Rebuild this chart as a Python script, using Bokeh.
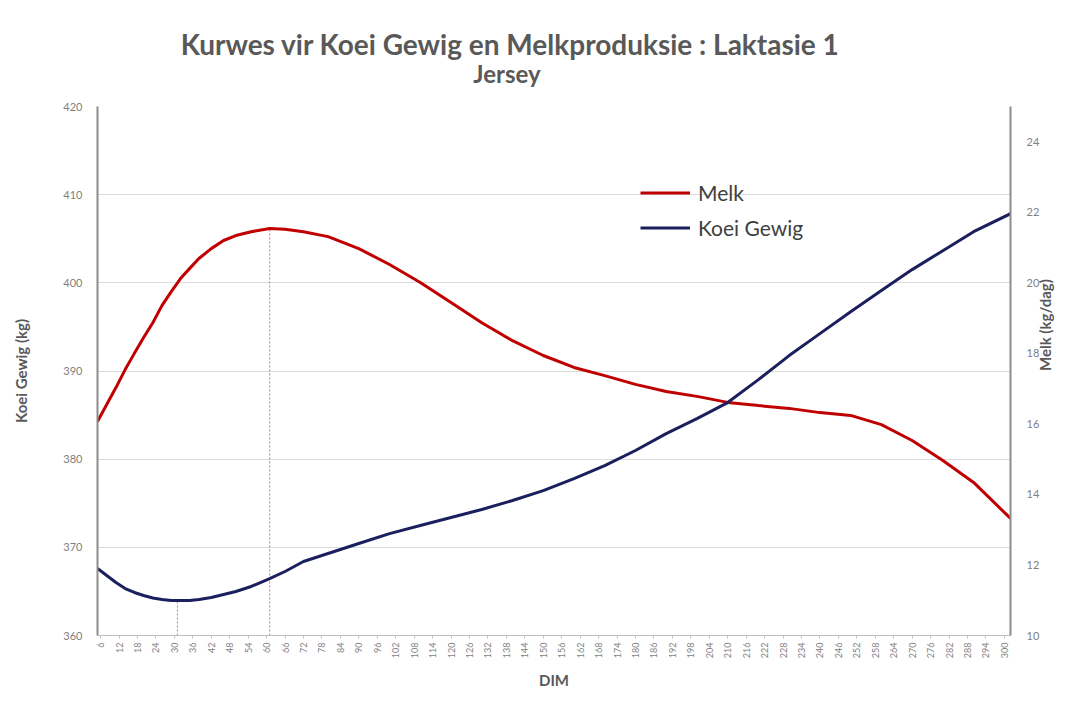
import math
from bokeh.plotting import figure
from bokeh.layouts import column
from bokeh.models import Range1d, LinearAxis, FixedTicker, Legend, LegendItem
from bokeh.core.properties import value
from bokeh.embed import file_html
from bokeh.resources import INLINE

# ---- data ----
dim = [5, 8, 11, 14, 17, 20, 23, 26, 29, 32, 35, 38, 42, 46, 50, 55, 61, 66, 72, 80,
       90, 100, 110, 120, 130, 140, 150, 160, 170, 180, 190, 200, 210, 220, 230, 240,
       250, 260, 270, 280, 290, 302]
melk = [16.07, 16.55, 17.03, 17.54, 18.00, 18.45, 18.87, 19.36, 19.75, 20.12, 20.41,
        20.69, 20.97, 21.20, 21.34, 21.45, 21.54, 21.52, 21.45, 21.31,
        20.97, 20.52, 20.01, 19.44, 18.87, 18.36, 17.94, 17.60, 17.37, 17.12, 16.92,
        16.78, 16.61, 16.52, 16.44, 16.32, 16.24, 15.98, 15.53, 14.96, 14.34, 13.32]
koei_gewig = [367.60, 366.80, 366.01, 365.33, 364.88, 364.54, 364.25, 364.08, 363.97,
              363.97, 363.97, 364.08, 364.31, 364.65, 364.99, 365.56, 366.46, 367.26,
              368.39, 369.30, 370.43, 371.56, 372.47, 373.38, 374.29, 375.31, 376.44,
              377.80, 379.27, 380.98, 382.90, 384.60, 386.42, 389.02, 391.75, 394.24,
              396.73, 399.12, 401.50, 403.65, 405.80, 407.84]
x_ticks = list(range(6, 301, 6))
left_ticks = [360, 370, 380, 390, 400, 410, 420]
right_ticks = [10, 12, 14, 16, 18, 20, 22, 24]
marker_gewig_min = (31, 363.97)   # DIM of minimum body weight
marker_melk_peak = (61, 21.54)    # DIM of peak milk

title_text = "Kurwes vir Koei Gewig en Melkproduksie : Laktasie 1"
subtitle_text = "Jersey"

RED = "#C00000"
BLUE = "#1B1F5E"
GRAY_TXT = "#595959"
GRAY_TICK = "#7F7F7F"
FONT = "Lato"

W = 1068
TH = 90      # height of the title strip

# ---- title strip ----
tp = figure(width=W, height=TH, output_backend="svg", toolbar_location=None,
            x_range=Range1d(0, W), y_range=Range1d(0, TH), x_axis_type=None, y_axis_type=None,
            min_border=0)
tp.outline_line_color = None
tp.grid.visible = False
tp.text(x=[483], y=[TH - 43], text=[title_text], text_align="center", text_baseline="middle",
        text_font=value(FONT), text_font_size="28px", text_font_style="bold", text_color=GRAY_TXT)
tp.text(x=[479], y=[TH - 73], text=[subtitle_text], text_align="center", text_baseline="middle",
        text_font=value(FONT), text_font_size="24px", text_font_style="bold", text_color=GRAY_TXT)

# ---- main chart ----
p = figure(width=W, height=692 - TH, output_backend="svg", toolbar_location=None,
           x_range=Range1d(5, 302), y_range=Range1d(360, 420), title=None,
           min_border_left=97, min_border_right=58, min_border_top=106 - TH, min_border_bottom=57)
p.extra_y_ranges = {"melk": Range1d(10, 25)}
p.outline_line_color = None
p.background_fill_color = "white"
p.border_fill_color = "white"

p.xgrid.grid_line_color = None
p.ygrid.grid_line_color = "#DCDCDC"
p.ygrid.grid_line_width = 1

lab_kw = dict(axis_label_text_font=FONT, axis_label_text_font_size="15px",
              axis_label_text_font_style="bold", axis_label_text_color=GRAY_TXT)

# left axis
ya = p.yaxis[0]
ya.ticker = FixedTicker(ticks=left_ticks)
ya.axis_line_color = "#8C8C8C"
ya.axis_line_width = 2
ya.major_tick_in = 0
ya.major_tick_out = 0
ya.minor_tick_line_color = None
ya.major_label_text_font = FONT
ya.major_label_text_font_size = "11px"
ya.major_label_text_color = GRAY_TICK
ya.major_label_standoff = 15
ya.axis_label = "Koei Gewig (kg)"
ya.axis_label_standoff = 30
for k, v in lab_kw.items():
    setattr(ya, k, v)

# bottom axis
xa = p.xaxis[0]
xa.ticker = FixedTicker(ticks=x_ticks)
xa.axis_line_color = "#BFBFBF"
xa.axis_line_width = 1
xa.major_tick_in = 0
xa.major_tick_out = 3
xa.major_tick_line_color = "#BFBFBF"
xa.minor_tick_line_color = None
xa.major_label_orientation = math.pi / 2
xa.major_label_text_font = FONT
xa.major_label_text_font_size = "9px"
xa.major_label_text_color = GRAY_TICK
xa.major_label_standoff = 4
xa.axis_label = "DIM"
xa.axis_label_standoff = 10
for k, v in lab_kw.items():
    setattr(xa, k, v)

# right axis
ra = LinearAxis(y_range_name="melk", ticker=FixedTicker(ticks=right_ticks))
ra.axis_line_color = "#8C8C8C"
ra.axis_line_width = 2
ra.major_tick_in = 0
ra.major_tick_out = 0
ra.minor_tick_line_color = None
ra.major_label_text_font = FONT
ra.major_label_text_font_size = "11px"
ra.major_label_text_color = GRAY_TICK
ra.major_label_standoff = 16
ra.axis_label = "Melk (kg/dag)"
ra.axis_label_standoff = 3
for k, v in lab_kw.items():
    setattr(ra, k, v)
if "axis_label_orientation" in ra.properties():
    ra.axis_label_orientation = math.pi / 2
p.add_layout(ra, "right")

# marker dashed lines
p.segment(x0=[marker_gewig_min[0]], y0=[360], x1=[marker_gewig_min[0]], y1=[marker_gewig_min[1]],
          line_color="#F0607F", line_width=1, line_dash="2 2")
p.segment(x0=[marker_melk_peak[0]], y0=[10], x1=[marker_melk_peak[0]], y1=[marker_melk_peak[1]],
          line_color="#F0607F", line_width=1, line_dash="2 2", y_range_name="melk")

# series
r_melk = p.line(dim, melk, line_color=RED, line_width=3, y_range_name="melk")
r_gew = p.line(dim, koei_gewig, line_color=BLUE, line_width=3)

legend = Legend(items=[LegendItem(label="Melk", renderers=[r_melk]),
                       LegendItem(label="Koei Gewig", renderers=[r_gew])],
                location=(543, 395), orientation="vertical")
legend.border_line_color = None
legend.background_fill_alpha = 0
legend.padding = 0
legend.margin = 0
legend.spacing = 10
legend.glyph_width = 50
legend.glyph_height = 25
legend.label_height = 25
legend.label_standoff = 8
legend.label_text_font = FONT
legend.label_text_font_size = "21px"
legend.label_text_color = "#404040"
p.add_layout(legend, "center")

layout = column(tp, p, spacing=0)
open("out.html", "w").write(file_html(layout, INLINE))
